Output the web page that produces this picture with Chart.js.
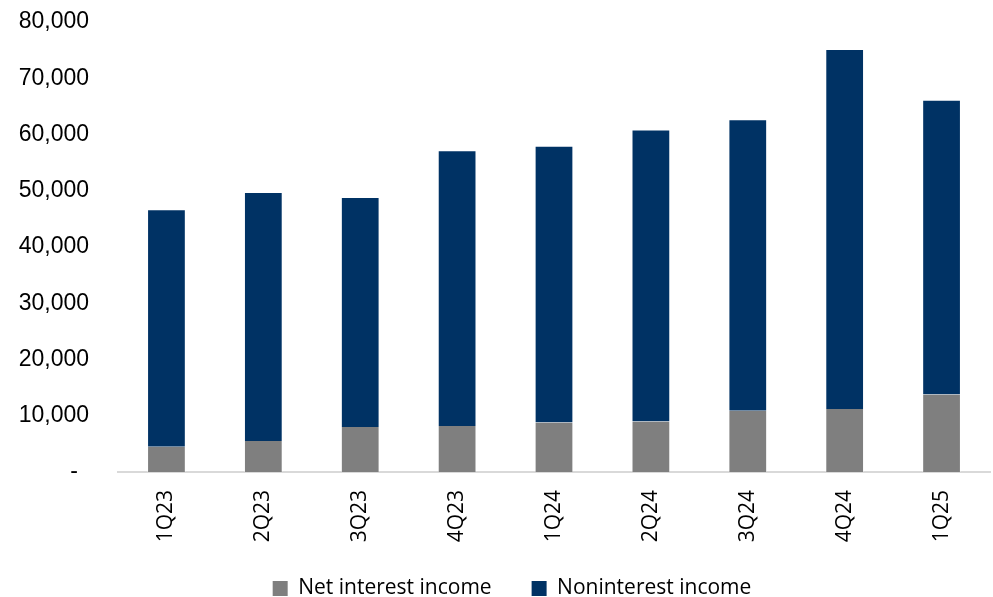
<!DOCTYPE html>
<html>
<head>
<meta charset="utf-8">
<title>Net interest and noninterest income</title>
<script src="https://cdn.jsdelivr.net/npm/chart.js@4.4.1/dist/chart.umd.min.js"></script>
<style>
  html, body { margin: 0; padding: 0; background: #fff; }
  #wrap { width: 993px; height: 597px; position: relative; }
</style>
</head>
<body>
<div id="wrap"><canvas id="myChart"></canvas></div>
<script>
'use strict';

// quarterly revenue split, in thousands
let quarters = ['1Q23', '2Q23', '3Q23', '4Q23', '1Q24', '2Q24', '3Q24', '4Q24', '1Q25'];
let netInterest = [4500, 5500, 8000, 8200, 8800, 9000, 10900, 11200, 13800];
let nonInterest = [42200, 44300, 40900, 49000, 49200, 51900, 51800, 64000, 52400];
let yTicks = [0, 10000, 20000, 30000, 40000, 50000, 60000, 70000, 80000];

const ctx = document.getElementById('myChart');

const labelFont = { family: 'Open Sans', size: 21 };

function formatTick(value) {
  if (value === 0) {
    return '-\u00a0\u2009';
  }
  return value.toLocaleString('en-US');
}

// nudge the legend row so it sits under the plot, closer to the x labels
const legendShift = {
  id: 'legendShift',
  afterLayout: function (chart) {
    chart.legend.left += 34;
    chart.legend.top -= 8;
  }
};

new Chart(ctx, {
  type: 'bar',
  data: {
    labels: quarters,
    datasets: [{
      label: 'Net interest income',
      data: netInterest,
      backgroundColor: '#7f7f7f',
      borderColor: 'rgba(255, 255, 255, 0.35)',
      borderWidth: { left: 1, right: 1, top: 0, bottom: 0 },
    }, {
      label: 'Noninterest income',
      data: nonInterest,
      backgroundColor: '#003264',
      borderColor: 'rgba(255, 255, 255, 0.35)',
      borderWidth: { left: 1, right: 1, top: 1, bottom: 0 },
    }]
  },
  options: {
    responsive: true,
    maintainAspectRatio: false,
    animation: false,
    barPercentage: 0.4,
    categoryPercentage: 1,
    layout: {
      padding: { top: 22, left: 0, right: 3, bottom: -20 }
    },
    plugins: {
      tooltip: { enabled: false },
      legend: {
        position: 'bottom',
        labels: {
          color: '#000',
          font: labelFont,
          boxWidth: 15,
          boxHeight: 15,
          padding: 40,
          generateLabels: function (chart) {
            return chart.data.datasets.map(function (ds, i) {
              return {
                text: ds.label,
                fillStyle: ds.backgroundColor,
                strokeStyle: ds.backgroundColor,
                lineWidth: 0,
                fontColor: '#000',
                datasetIndex: i,
              };
            });
          }
        }
      }
    },
    scales: {
      x: {
        stacked: true,
        grid: { display: false, drawTicks: false },
        border: { display: true, color: '#d9d9d9', width: 2 },
        afterFit: function (axis) {
          axis.height = 74;
        },
        ticks: {
          color: '#000',
          font: labelFont,
          minRotation: 90,
          maxRotation: 90,
          padding: 18,
        }
      },
      y: {
        stacked: true,
        min: 0,
        max: 80000,
        afterBuildTicks: function (axis) {
          axis.ticks = yTicks.map(function (v) { return { value: v }; });
        },
        afterFit: function (axis) {
          axis.width = 118;
          axis.paddingTop = 0;
          axis.paddingBottom = 0;
        },
        grid: { display: false, drawTicks: false },
        border: { display: false },
        ticks: {
          color: '#000',
          font: { family: 'Liberation Sans', size: 23 },
          padding: 29,
          callback: formatTick,
        }
      }
    }
  },
  plugins: [legendShift]
});
</script>
</body>
</html>
